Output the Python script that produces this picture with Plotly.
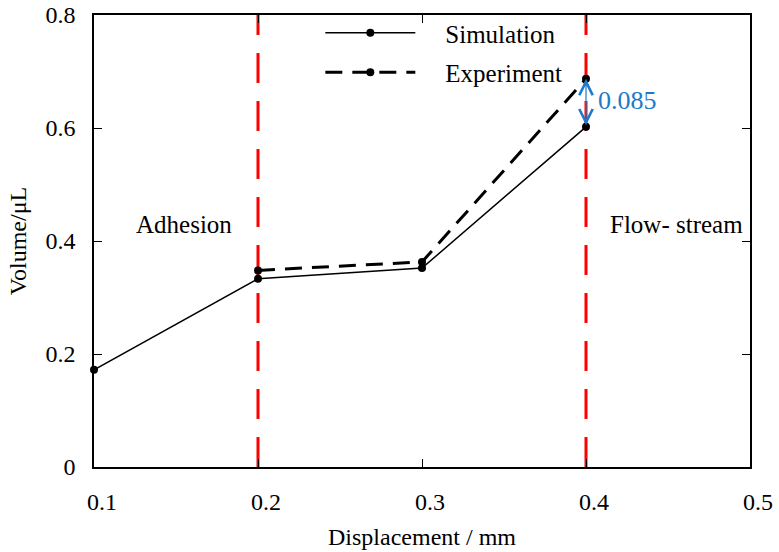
import plotly.graph_objects as go

sim_x = [0.1, 0.2, 0.3, 0.4]
sim_y = [0.172, 0.333, 0.352, 0.602]
exp_x = [0.2, 0.3, 0.4]
exp_y = [0.348, 0.363, 0.687]
boundary_x = [0.2, 0.4]
region_labels = ["Adhesion", "Flow- stream"]
region_x = [0.155, 0.455]
region_y = [0.43, 0.43]
gap_value = 0.085

FONT = "Liberation Serif"
BLUE = "#1e7ac8"
NB = "\u00a0"

fig = go.Figure()

for bx in boundary_x:
    fig.add_shape(type="line", x0=bx, x1=bx, y0=0, y1=0.8, xref="x", yref="y",
                  line=dict(color="#ff0000", width=3, dash="30px,18px"), layer="below")

fig.add_trace(go.Scatter(x=sim_x, y=sim_y, mode="lines+markers", name=NB * 4 + "Simulation",
                         line=dict(color="black", width=1.5),
                         marker=dict(color="black", size=8), cliponaxis=False,
                         legendgroup="a"))
fig.add_trace(go.Scatter(x=exp_x, y=exp_y, mode="lines+markers", name=NB * 4 + "Experiment",
                         line=dict(color="black", width=3, dash="17px,10px"),
                         marker=dict(color="black", size=8), cliponaxis=False,
                         legendgroup="b"))

# double arrow showing difference
fig.add_annotation(x=0.4, y=sim_y[-1] + gap_value, ax=0.4, ay=sim_y[-1],
                   xref="x", yref="y", axref="x", ayref="y", text="",
                   showarrow=True, arrowhead=5, arrowside="end+start",
                   arrowsize=2.2, arrowwidth=1.2, arrowcolor=BLUE)
fig.add_annotation(x=0.406, y=sim_y[-1] + gap_value / 2 + 0.005, xref="x", yref="y",
                   text=str(gap_value), showarrow=False, xanchor="left",
                   font=dict(family=FONT, size=26, color=BLUE))

for t, x, y in zip(region_labels, region_x, region_y):
    fig.add_annotation(x=x, y=y, xref="x", yref="y", text=t, showarrow=False,
                       font=dict(family=FONT, size=25, color="black"))

fig.update_layout(
    width=779, height=552,
    margin=dict(l=94, r=29, t=15, b=85, autoexpand=False),
    paper_bgcolor="white", plot_bgcolor="white",
    font=dict(family=FONT, size=24, color="black"),
    showlegend=True,
    legend=dict(x=0.345, y=1.011, xanchor="left", yanchor="top",
                bgcolor="rgba(0,0,0,0)", font=dict(family=FONT, size=25),
                itemwidth=90, tracegroupgap=4, traceorder="grouped"),
    xaxis=dict(range=[0.1, 0.5], tickvals=[0.1, 0.2, 0.3, 0.4, 0.5],
               ticktext=["0.1", "0.2", "0.3", "0.4", "0.5"], automargin=False,
               showgrid=False, zeroline=False, showline=True, linecolor="black",
               linewidth=1.5, mirror="ticks", ticks="inside", ticklen=8,
               tickcolor="black", ticklabelshift=8, ticklabelstandoff=12,
               tickfont=dict(family=FONT, size=24),
               title=dict(text="Displacement / mm", standoff=15,
                          font=dict(family=FONT, size=24))),
    yaxis=dict(range=[0, 0.8], tickvals=[0, 0.2, 0.4, 0.6, 0.8],
               ticktext=["0", "0.2", "0.4", "0.6", "0.8"], automargin=False,
               showgrid=False, zeroline=False, showline=True, linecolor="black",
               linewidth=1.5, mirror="ticks", ticks="inside", ticklen=8,
               tickcolor="black", ticklabelstandoff=12,
               tickfont=dict(family=FONT, size=24),
               title=dict(text="Volume/μL", standoff=12,
                          font=dict(family=FONT, size=24))),
)

fig.write_html("out.html")
